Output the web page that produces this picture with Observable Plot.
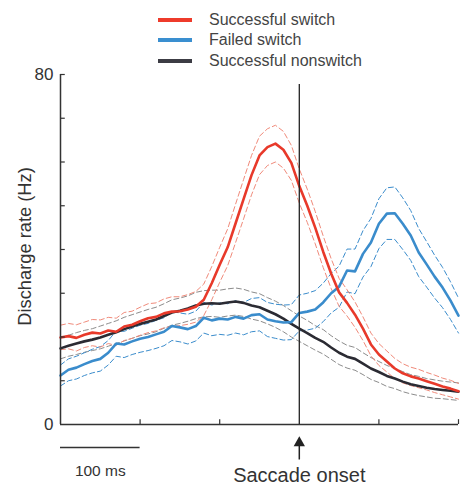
<!DOCTYPE html>
<html><head><meta charset="utf-8">
<script src="https://cdn.jsdelivr.net/npm/d3@7"></script>
<script src="https://cdn.jsdelivr.net/npm/@observablehq/plot@0.6"></script>
<style>
body{margin:0;background:#fff;font-family:"Liberation Sans",Arial,Helvetica,sans-serif;}
#wrap{position:relative;width:462px;height:484px;}
.item{position:absolute;left:158px;height:20px;line-height:20px;font-size:16px;color:#444;white-space:nowrap;}
.item .sw{position:absolute;left:0;top:8px;width:34px;height:4px;}
.item .lb{position:absolute;left:51px;top:0;}
svg{overflow:visible}
</style></head><body><div id="wrap"></div>
<script>
// time relative to saccade onset (ms)
const time = [-300,-290,-280,-270,-260,-250,-240,-230,-220,-210,-200,-190,-180,-170,-160,-150,-140,-130,
  -120,-110,-100,-90,-80,-70,-60,-50,-40,-30,-20,-10,0,10,20,30,40,50,
  60,70,80,90,100,110,120,130,140,150,160,170,180,190,200];

const successfulSwitch = [19.9,20.2,19.8,20.5,21.0,20.8,21.5,21.2,22.4,22.8,23.6,24.3,24.6,25.4,25.8,25.9,26.3,26.9,
  28.5,32.3,36.5,40.5,46.0,51.5,57.0,61.5,63.4,64.2,62.8,59.8,54.5,50.0,45.0,39.5,34.5,30.2,
  27.8,25.1,21.9,18.3,16.0,14.4,12.8,11.7,11.0,10.5,9.9,9.3,8.7,8.2,7.6];
const successfulSwitchSE = [2.8,2.9,3.0,2.9,3.0,3.1,3.0,3.1,3.2,3.1,3.2,3.3,3.2,3.3,3.4,3.3,3.4,3.5,
  3.6,3.8,4.0,4.2,4.4,4.5,4.5,4.4,4.2,4.2,4.2,4.0,3.9,3.8,3.7,3.6,3.4,3.2,
  3.0,2.9,2.7,2.6,2.5,2.4,2.3,2.2,2.1,2.1,2.0,2.0,1.9,1.9,1.8];

const failedSwitch = [11.2,12.5,13.0,13.8,14.5,15.0,16.4,18.5,18.3,19.0,19.6,20.0,20.6,21.2,22.5,22.2,21.8,22.5,
  24.4,23.8,24.2,24.0,24.6,24.2,25.0,25.2,24.0,23.6,23.3,23.4,25.5,25.8,26.3,27.9,30.0,31.5,
  35.2,35.0,39.0,41.6,45.9,48.2,48.3,45.9,43.2,39.3,36.6,33.8,31.3,28.3,24.9];
const failedSwitchSE = [2.4,2.5,2.6,2.6,2.7,2.8,2.8,2.9,3.0,3.0,3.1,3.1,3.2,3.2,3.3,3.3,3.4,3.4,
  3.5,3.5,3.6,3.6,3.7,3.7,3.8,3.8,3.9,3.9,4.0,4.0,4.1,4.2,4.3,4.4,4.5,4.7,
  4.9,5.1,5.3,5.5,5.7,5.9,6.0,5.9,5.7,5.5,5.2,4.9,4.6,4.3,4.0];

const successfulNonswitch = [17.4,18.0,18.5,19.0,19.4,19.9,20.5,21.1,21.8,22.4,23.0,23.5,24.0,24.8,25.6,26.0,26.5,27.2,
  27.6,27.7,27.6,27.9,28.1,27.8,27.2,26.8,26.0,25.2,24.2,23.0,21.9,20.9,19.8,18.9,17.6,16.4,
  15.5,15.0,13.9,12.8,12.0,11.1,10.5,9.8,9.2,8.8,8.4,8.1,7.9,7.7,7.5];
const successfulNonswitchSE = [2.4,2.4,2.5,2.5,2.5,2.6,2.6,2.6,2.7,2.7,2.7,2.8,2.8,2.8,2.9,2.9,2.9,3.0,
  3.0,3.0,3.1,3.1,3.1,3.1,3.1,3.1,3.0,3.0,3.0,3.0,2.9,2.9,2.8,2.8,2.7,2.7,
  2.6,2.6,2.5,2.5,2.4,2.4,2.3,2.3,2.2,2.2,2.1,2.1,2.0,2.0,2.0];

const seriesNames = ["Successful switch","Failed switch","Successful nonswitch"];
const yTicks = [10,20,30,40,50,60,70,80];
const yLabels = [0,80];
const xTicks = [-200,-100,100,200];

const series = [
  {name: seriesNames[2], mean: successfulNonswitch, se: successfulNonswitchSE, color: "#2b2b33", dash: "#8c8c8c", legend: "#3c3c44"},
  {name: seriesNames[1], mean: failedSwitch, se: failedSwitchSE, color: "#3a8ccc", dash: "#3a8ccc", legend: "#3a8fd0"},
  {name: seriesNames[0], mean: successfulSwitch, se: successfulSwitchSE, color: "#e8392a", dash: "#f08a7a", legend: "#ee3b2b"}
];

const marks = [];
for (const s of series) {
  const rows = time.map((t, i) => ({t, mean: s.mean[i], lo: s.mean[i] - s.se[i], hi: s.mean[i] + s.se[i]}));
  marks.push(Plot.line(rows, {x: "t", y: "hi", stroke: s.dash, strokeWidth: 1, strokeDasharray: "5,3"}));
  marks.push(Plot.line(rows, {x: "t", y: "lo", stroke: s.dash, strokeWidth: 1, strokeDasharray: "5,3"}));
}
for (const s of series) {
  const rows = time.map((t, i) => ({t, mean: s.mean[i]}));
  marks.push(Plot.line(rows, {x: "t", y: "mean", stroke: s.color, strokeWidth: 2.6}));
}

const plot = Plot.plot({
  width: 462, height: 484,
  marginLeft: 60, marginRight: 4, marginTop: 74, marginBottom: 60,
  style: {fontFamily: "'Liberation Sans', Arial, Helvetica, sans-serif", background: "transparent", overflow: "visible"},
  x: {domain: [-300, 200], axis: null},
  y: {domain: [0, 80], axis: null},
  marks: [
    ...marks,
    Plot.ruleX([-300], {y1: 0, y2: 80, stroke: "#333", strokeWidth: 1.5}),
    Plot.ruleY([0], {x1: -300, x2: 200, stroke: "#333", strokeWidth: 1.5}),
    Plot.ruleY(yTicks, {x1: -300, x2: -294, stroke: "#333", strokeWidth: 1.2}),
    Plot.ruleX(xTicks, {y1: 0, y2: 1.1, stroke: "#333", strokeWidth: 1.2}),
    Plot.text(yLabels, {x: -300, y: d => d, text: d => String(d), dx: -7, textAnchor: "end", fontSize: 17, fill: "#333"}),
    Plot.text(["Discharge rate (Hz)"], {frameAnchor: "left", textAnchor: "middle", rotate: -90, dx: -35, dy: -3, fontSize: 18.3, fill: "#333"}),
    Plot.ruleX([0], {y1: 0, y2: 77.7, stroke: "#222", strokeWidth: 1.3}),
    Plot.ruleY([0], {x1: -300, x2: -200, dy: 23, stroke: "#333", strokeWidth: 1.6}),
    Plot.text(["100 ms"], {x: -250, y: 0, dy: 51, lineAnchor: "bottom", fontSize: 15.5, fill: "#333"}),
    Plot.link([0], {x1: d => d, x2: d => d, y1: -8, y2: -4.2, stroke: "#222", strokeWidth: 1.5}),
    Plot.dot([0], {x: d => d, y: -4.2, symbol: "triangle", r: 4.2, fill: "#222", stroke: "none"}),
    Plot.text(["Saccade onset"], {x: 0, y: 0, dy: 57, lineAnchor: "bottom", fontSize: 20, fill: "#333"})
  ]
});

const wrap = document.getElementById("wrap");
wrap.appendChild(plot);
const legendOrder = [series[2], series[1], series[0]];
const tops = [9.5, 30, 50.5];
legendOrder.forEach((s, i) => {
  const item = document.createElement("div");
  item.className = "item";
  item.style.top = tops[i] + "px";
  const sw = document.createElement("span");
  sw.className = "sw";
  sw.style.background = s.legend;
  const lb = document.createElement("span");
  lb.className = "lb";
  lb.textContent = s.name;
  item.appendChild(sw); item.appendChild(lb);
  wrap.appendChild(item);
});
</script></body></html>
